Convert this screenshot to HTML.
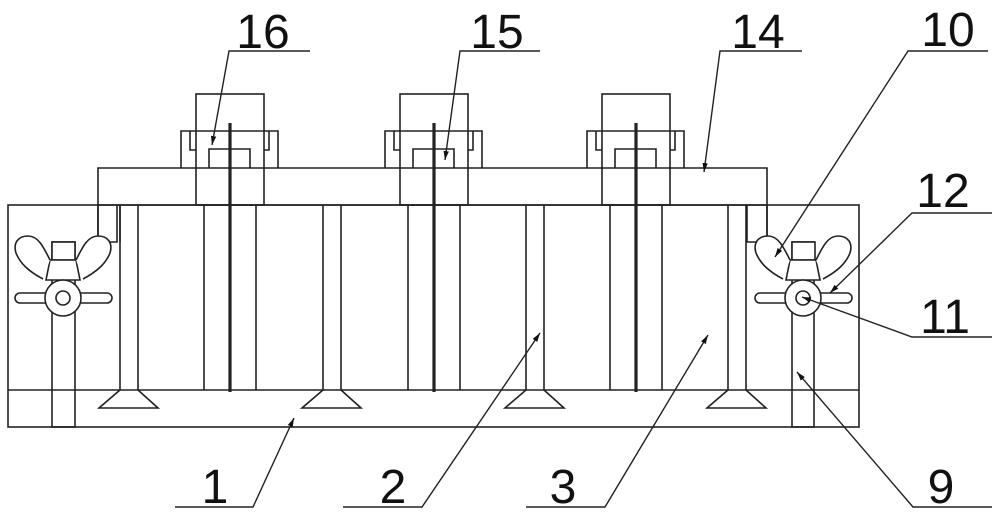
<!DOCTYPE html>
<html><head><meta charset="utf-8"><style>html,body{margin:0;padding:0;background:#fff}svg{display:block}</style></head><body>
<svg width="1000" height="518" viewBox="0 0 1000 518" xmlns="http://www.w3.org/2000/svg">
<defs>
<marker id="ar" viewBox="0 0 10 10" refX="10" refY="5" markerWidth="9" markerHeight="9" orient="auto" markerUnits="userSpaceOnUse"><path d="M0,2 L10,5 L0,8 Z" fill="#111"/></marker>
<g id="nut" fill="none" stroke="#222" stroke-width="1.6">
<rect x="-11" y="-56" width="23" height="18" fill="#fff"/>
<path d="M-13,-38 L13,-38 L17,-18 L-17,-18 Z" fill="#fff"/>
<path d="M-13,-38 C-20,-52 -25,-62 -35,-62 C-45,-62 -50,-55 -47,-45 C-43,-35 -35,-27 -20,-19" fill="#fff"/>
<path d="M13,-38 C20,-52 25,-62 35,-62 C45,-62 50,-55 47,-45 C43,-35 35,-27 20,-19" fill="#fff"/>
<rect x="-48" y="-5" width="97" height="10" rx="5" fill="#fff"/>
<circle cx="0" cy="0" r="18" fill="#fff"/>
<circle cx="0" cy="0" r="7"/>
</g>
<g id="blk" fill="none" stroke="#222" stroke-width="1.6">
<rect x="-34" y="94" width="68" height="111"/>
<path d="M-49,168 L-49,131 L48,131 L48,168"/>
<path d="M-40,131 L-40,150 L-34,150 M39,131 L39,150 L34,150"/>
<path d="M-21,168 L-21,149 L20,149 L20,168"/>
<path d="M-26,205 L-26,390 M26,205 L26,390"/>
<line x1="0" y1="123" x2="0" y2="392" stroke-width="3.2"/>
</g>
<g id="valve" fill="none" stroke="#222" stroke-width="1.6">
<path d="M-9,205 L-9,390 L-30,408 L29,408 L9,390 L9,205"/>
</g>
</defs>
<g fill="none" stroke="#222" stroke-width="1.6">
<rect x="8" y="205" width="851" height="222"/>
<line x1="8" y1="390" x2="859" y2="390"/>
<path d="M98,242 L98,168 L767,168 L767,242"/>
<rect x="52" y="242" width="23" height="185"/>
<rect x="792" y="242" width="22" height="185"/>
</g>
<rect x="99" y="206" width="667" height="36" fill="#fff"/>
<g fill="none" stroke="#222" stroke-width="1.6">
<path d="M98,205 L98,242 L117,242 L117,205 M120,205 L120,242"/>
<path d="M767,205 L767,242 L747,242 L747,205"/>
<line x1="98" y1="205" x2="767" y2="205"/>
</g>
<use href="#valve" x="129"/>
<use href="#valve" x="332"/>
<use href="#valve" x="535"/>
<use href="#valve" x="737"/>
<rect x="196" y="169" width="66" height="35" fill="#fff"/>
<rect x="401" y="169" width="66" height="35" fill="#fff"/>
<rect x="603" y="169" width="66" height="35" fill="#fff"/>
<use href="#blk" x="230"/>
<use href="#blk" x="434"/>
<use href="#blk" x="636"/>
<use href="#nut" x="63" y="298"/>
<use href="#nut" x="803" y="298"/>
<g stroke="#222" stroke-width="1.4" fill="none" marker-end="url(#ar)">
<path d="M310,51 L229,51 L212,145"/>
<path d="M540,51 L460,51 L445,160"/>
<path d="M802,51 L720,51 L704,172"/>
<path d="M988,51 L908,51 L775,257"/>
<path d="M992,213 L912,213 L830,293"/>
<path d="M992,337 L912,337 L802,297"/>
<path d="M992,507 L913,507 L797,372"/>
<path d="M526,507 L605,507 L708,335"/>
<path d="M343,507 L422,507 L540,333"/>
<path d="M175,507 L253,507 L294,418"/>
</g>
<g font-family="Liberation Sans, sans-serif" font-size="48" fill="#111" text-anchor="middle">
<text x="263" y="48">16</text>
<text x="497" y="48">15</text>
<text x="758" y="48">14</text>
<text x="948" y="46">10</text>
<text x="943" y="207">12</text>
<text x="945" y="333">11</text>
<text x="941" y="503">9</text>
<text x="563" y="503">3</text>
<text x="393" y="503">2</text>
<text x="215" y="503">1</text>
</g>
</svg>
</body></html>
